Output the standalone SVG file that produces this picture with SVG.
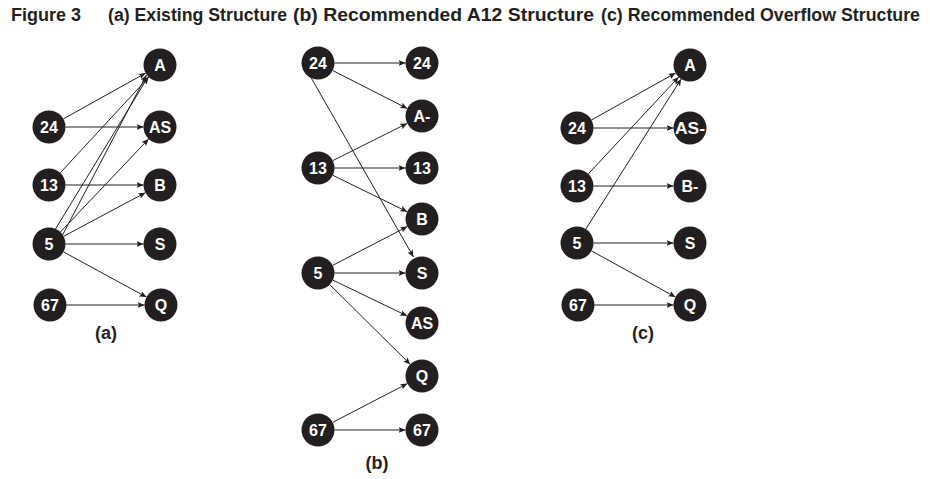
<svg xmlns="http://www.w3.org/2000/svg" width="930" height="479" viewBox="0 0 930 479">
  <style>
    .title { font-family: "Liberation Sans", Arial, sans-serif; font-weight: bold; font-size: 18px; fill: #231f20; }
    .node circle { fill: #231f20; }
    .node text { font-family: "Liberation Sans", Arial, sans-serif; font-weight: bold; font-size: 16px; fill: #ffffff; text-anchor: middle; dominant-baseline: central; }
    .cap { font-family: "Liberation Sans", Arial, sans-serif; font-weight: bold; font-size: 18px; fill: #231f20; text-anchor: middle; }
    .edges line { stroke: #231f20; stroke-width: 1; marker-end: url(#arrow); }
  </style>
  <defs>
    <marker id="arrow" markerUnits="userSpaceOnUse" markerWidth="8" markerHeight="6" refX="7" refY="3" orient="auto">
      <path d="M0,0 L7,3 L0,6 L1.5,3 z" fill="#231f20"/>
    </marker>
  </defs>
  <rect width="930" height="479" fill="#ffffff"/>

  <!-- figure heading -->
  <g id="heading">
    <text class="title" x="11" y="21" textLength="70" lengthAdjust="spacingAndGlyphs">Figure 3</text>
    <text class="title" x="108" y="21" textLength="179" lengthAdjust="spacingAndGlyphs">(a) Existing Structure</text>
    <text class="title" x="293" y="21" textLength="301" lengthAdjust="spacingAndGlyphs">(b) Recommended A12 Structure</text>
    <text class="title" x="601" y="21" textLength="319" lengthAdjust="spacingAndGlyphs">(c) Recommended Overflow Structure</text>
  </g>

  <!-- connectors -->
  <g class="edges">
    <!-- (a) existing -->
    <line x1="63.4" y1="118.9" x2="145.6" y2="73.1"/>
    <line x1="65.5" y1="127" x2="143.5" y2="127"/>
    <line x1="60.2" y1="172.9" x2="148.8" y2="77.1"/>
    <line x1="65.5" y1="185" x2="143.5" y2="185"/>
    <line x1="55.5" y1="229" x2="148" y2="77"/>
    <line x1="62" y1="236" x2="146.5" y2="75"/>
    <line x1="60.4" y1="232" x2="148.6" y2="139"/>
    <line x1="63.6" y1="236.3" x2="145.4" y2="192.7"/>
    <line x1="65.5" y1="244" x2="143.5" y2="244"/>
    <line x1="63.5" y1="251.9" x2="146.5" y2="297.1"/>
    <line x1="66.5" y1="305" x2="144.5" y2="305"/>
    <!-- (b) recommended A12 -->
    <line x1="334.5" y1="63" x2="405.5" y2="63"/>
    <line x1="332.7" y1="70.5" x2="407.3" y2="108.5"/>
    <line x1="311" y1="77.5" x2="413.5" y2="257"/>
    <line x1="332.8" y1="160.6" x2="407.2" y2="123.4"/>
    <line x1="334.5" y1="168" x2="405.5" y2="168"/>
    <line x1="332.8" y1="175.3" x2="407.2" y2="211.7"/>
    <line x1="332.6" y1="265.4" x2="407.4" y2="226.6"/>
    <line x1="334.5" y1="273" x2="405.5" y2="273"/>
    <line x1="332.9" y1="280.1" x2="407.1" y2="315.9"/>
    <line x1="329.7" y1="284.6" x2="410.3" y2="364.4"/>
    <line x1="332.6" y1="422.4" x2="407.4" y2="383.6"/>
    <line x1="334.5" y1="430" x2="405.5" y2="430"/>
    <!-- (c) recommended overflow -->
    <line x1="591.4" y1="120" x2="675.6" y2="73"/>
    <line x1="593.5" y1="128" x2="673.5" y2="128"/>
    <line x1="588.3" y1="173.9" x2="678.7" y2="77.1"/>
    <line x1="593.5" y1="186" x2="673.5" y2="186"/>
    <line x1="585.8" y1="229.1" x2="681.2" y2="78.9"/>
    <line x1="593.5" y1="243" x2="673.5" y2="243"/>
    <line x1="591.5" y1="250.9" x2="675.5" y2="297.1"/>
    <line x1="594.5" y1="305" x2="673.5" y2="305"/>
  </g>

  <!-- (a) existing structure -->
  <g id="a-A" class="node"><circle cx="160" cy="65" r="16.5"/><text x="160" y="65">A</text></g>
  <g id="a-24" class="node"><circle cx="49" cy="127" r="16.5"/><text x="49" y="127">24</text></g>
  <g id="a-AS" class="node"><circle cx="160" cy="127" r="16.5"/><text x="160" y="127">AS</text></g>
  <g id="a-13" class="node"><circle cx="49" cy="185" r="16.5"/><text x="49" y="185">13</text></g>
  <g id="a-B" class="node"><circle cx="160" cy="185" r="16.5"/><text x="160" y="185">B</text></g>
  <g id="a-5" class="node"><circle cx="49" cy="244" r="16.5"/><text x="49" y="244">5</text></g>
  <g id="a-S" class="node"><circle cx="160" cy="244" r="16.5"/><text x="160" y="244">S</text></g>
  <g id="a-67" class="node"><circle cx="50" cy="305" r="16.5"/><text x="50" y="305">67</text></g>
  <g id="a-Q" class="node"><circle cx="161" cy="305" r="16.5"/><text x="161" y="305">Q</text></g>
  <text class="cap" x="106" y="339">(a)</text>

  <!-- (b) recommended A12 structure -->
  <g id="b-24-src" class="node"><circle cx="318" cy="63" r="16.5"/><text x="318" y="63">24</text></g>
  <g id="b-24-dst" class="node"><circle cx="422" cy="63" r="16.5"/><text x="422" y="63">24</text></g>
  <g id="b-Aminus" class="node"><circle cx="422" cy="116" r="16.5"/><text x="422" y="116">A-</text></g>
  <g id="b-13-src" class="node"><circle cx="318" cy="168" r="16.5"/><text x="318" y="168">13</text></g>
  <g id="b-13-dst" class="node"><circle cx="422" cy="168" r="16.5"/><text x="422" y="168">13</text></g>
  <g id="b-B" class="node"><circle cx="422" cy="219" r="16.5"/><text x="422" y="219">B</text></g>
  <g id="b-5" class="node"><circle cx="318" cy="273" r="16.5"/><text x="318" y="273">5</text></g>
  <g id="b-S" class="node"><circle cx="422" cy="273" r="16.5"/><text x="422" y="273">S</text></g>
  <g id="b-AS" class="node"><circle cx="422" cy="323" r="16.5"/><text x="422" y="323">AS</text></g>
  <g id="b-Q" class="node"><circle cx="422" cy="376" r="16.5"/><text x="422" y="376">Q</text></g>
  <g id="b-67-src" class="node"><circle cx="318" cy="430" r="16.5"/><text x="318" y="430">67</text></g>
  <g id="b-67-dst" class="node"><circle cx="422" cy="430" r="16.5"/><text x="422" y="430">67</text></g>
  <text class="cap" x="377" y="469">(b)</text>

  <!-- (c) recommended overflow structure -->
  <g id="c-A" class="node"><circle cx="690" cy="65" r="16.5"/><text x="690" y="65">A</text></g>
  <g id="c-24" class="node"><circle cx="577" cy="128" r="16.5"/><text x="577" y="128">24</text></g>
  <g id="c-ASminus" class="node"><circle cx="690" cy="128" r="16.5"/><text x="690" y="128" textLength="30" lengthAdjust="spacingAndGlyphs">AS-</text></g>
  <g id="c-13" class="node"><circle cx="577" cy="186" r="16.5"/><text x="577" y="186">13</text></g>
  <g id="c-Bminus" class="node"><circle cx="690" cy="186" r="16.5"/><text x="690" y="186">B-</text></g>
  <g id="c-5" class="node"><circle cx="577" cy="243" r="16.5"/><text x="577" y="243">5</text></g>
  <g id="c-S" class="node"><circle cx="690" cy="243" r="16.5"/><text x="690" y="243">S</text></g>
  <g id="c-67" class="node"><circle cx="578" cy="305" r="16.5"/><text x="578" y="305">67</text></g>
  <g id="c-Q" class="node"><circle cx="690" cy="305" r="16.5"/><text x="690" y="305">Q</text></g>
  <text class="cap" x="643" y="339">(c)</text>
</svg>
